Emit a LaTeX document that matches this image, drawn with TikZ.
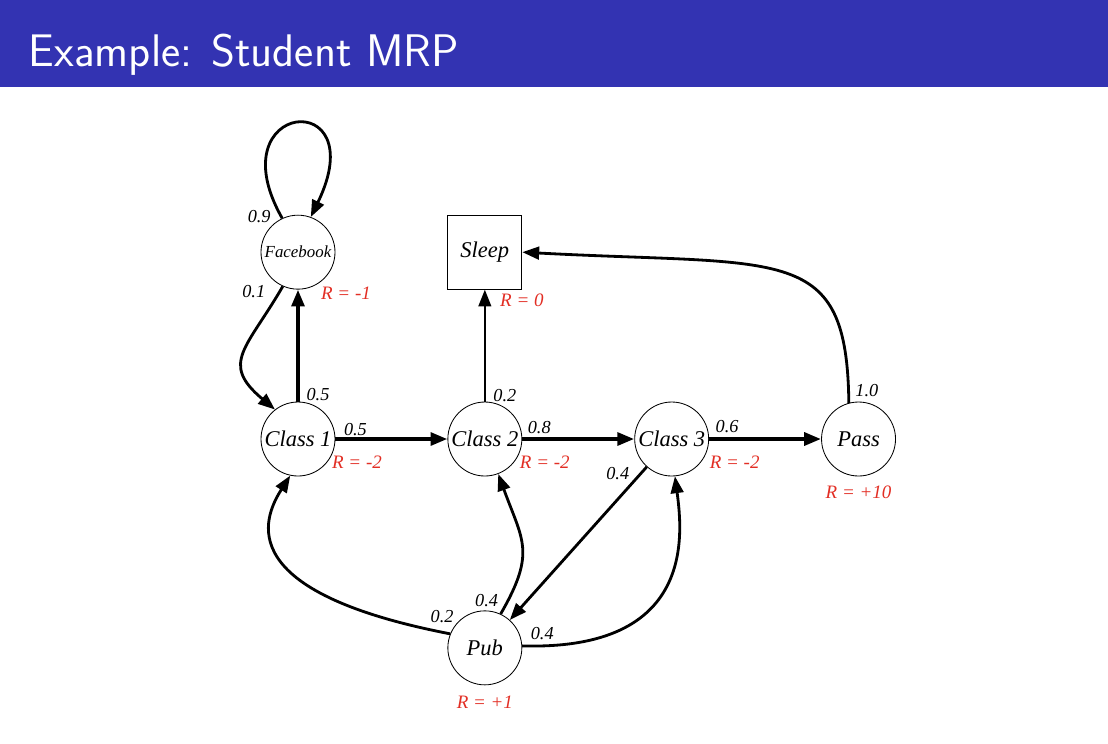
\documentclass[tikz,border=0pt]{standalone}
\usepackage{fontspec}
\setmainfont{Liberation Serif}
\usepackage{xcolor}
\usepackage{tikz}
\usetikzlibrary{arrows.meta,calc,positioning}
\definecolor{barblue}{RGB}{51,51,178}
\definecolor{rewardred}{RGB}{226,46,36}
\tikzset{
  statenode/.style={circle, draw, line width=0.6pt, minimum size=1.85cm, inner sep=0pt, font=\fontsize{16}{18}\selectfont\itshape},
  sleepbox/.style={rectangle, draw, line width=0.6pt, minimum size=1.85cm, inner sep=0pt, font=\fontsize{16}{18}\selectfont\itshape},
  elabel/.style={font=\fontsize{13}{15}\selectfont\itshape, inner sep=0pt},
  reward/.style={text=rewardred, font=\fontsize{13.5}{15}\selectfont\itshape, inner sep=0pt},
  tip/.style={-{Triangle[length=12pt,width=9pt]}},
  heavy/.style={tip, line width=2.8pt},
  mid/.style={tip, line width=2pt},
  light/.style={tip, line width=1.6pt}
}
\begin{document}
\begin{tikzpicture}[node distance=2.8cm]
    \useasboundingbox (0,0) rectangle (27.7,-18.575);
    % title bar
    \fill[barblue] (0,0) rectangle (27.7,-2.175);
    \node[anchor=base west, text=white, font=\sffamily\fontsize{32.5}{39}\selectfont] (title) at (0.6,-1.65) {Example: Student MRP};

    % states
    \node[statenode] (c1) at (7.45,-10.975) {Class 1};
    \node[statenode, right=of c1] (c2) {Class 2};
    \node[statenode, right=of c2] (c3) {Class 3};
    \node[statenode, right=of c3] (ps) {Pass};
    \node[statenode, above=of c1, font=\fontsize{12}{14}\selectfont\itshape] (fb) {Facebook};
    \node[sleepbox, above=of c2] (sl) {Sleep};
    \node[statenode, below=3.35cm of c2] (pb) {Pub};

    % rewards
    \node[reward] (rfb) at ($(fb)+(1.2,-1.025)$) {R = -1};
    \node[reward] (rsl) at ($(sl)+(0.925,-1.2)$) {R = 0};
    \node[reward] (rc1) at ($(c1)+(1.475,-0.575)$) {R = -2};
    \node[reward] (rc2) at ($(c2)+(1.5,-0.575)$) {R = -2};
    \node[reward] (rc3) at ($(c3)+(1.575,-0.575)$) {R = -2};
    \node[reward] (rps) at ($(ps)+(0,-1.325)$) {R = +10};
    \node[reward] (rpb) at ($(pb)+(0,-1.35)$) {R = +1};

    % transitions
    \draw[mid] (fb.115) .. controls +(-1.675,2.95) and +(1.6,3.3) .. (fb.70)
        node[elabel, at start, xshift=-0.575cm, yshift=0.05cm] (lfbfb) {0.9};
    \draw[mid] (fb.-114) to[out=-120, in=140, looseness=1.5]
        node[elabel, at start, xshift=-0.725cm, yshift=-0.125cm] (lfbc1) {0.1} (c1.128);
    \draw[heavy] (c1) -- (fb) node[elabel, at start, xshift=0.5cm, yshift=0.175cm] (lc1fb) {0.5};
    \draw[heavy] (c1) -- (c2) node[elabel, at start, xshift=0.5cm, yshift=0.225cm] (lc1c2) {0.5};
    \draw[light] (c2) -- (sl) node[elabel, at start, xshift=0.5cm, yshift=0.15cm] (lc2sl) {0.2};
    \draw[heavy] (c2) -- (c3) node[elabel, at start, xshift=0.425cm, yshift=0.275cm] (lc2c3) {0.8};
    \draw[heavy] (c3) -- (ps) node[elabel, at start, xshift=0.45cm, yshift=0.3cm] (lc3ps) {0.6};
    \draw[mid] (c3) -- (pb) node[elabel, at start, xshift=-0.725cm, yshift=-0.175cm] (lc3pb) {0.4};
    \draw[mid] (ps.105) .. controls +(-0.05,4.0) and +(6.6,-0.35) .. (sl.east)
        node[elabel, at start, xshift=0.45cm, yshift=0.3cm] (lpssl) {1.0};
    \draw[mid] (pb.158) .. controls +(-5.425,1.05) and +(-0.7,-1.1) .. (c1.-102)
        node[elabel, at start, xshift=-0.2cm, yshift=0.425cm] (lpbc1) {0.2};
    \draw[mid] (pb.65) to[out=60, in=-70, looseness=1.3]
        node[elabel, at start, xshift=-0.35cm, yshift=0.325cm] (lpbc2) {0.4} (c2.-69);
    \draw[mid] (pb.3) .. controls +(4.3,-0.125) and +(0.2,-1.5) .. (c3.-85)
        node[elabel, at start, xshift=0.5cm, yshift=0.3cm] (lpbc3) {0.4};
\end{tikzpicture}
\end{document}
